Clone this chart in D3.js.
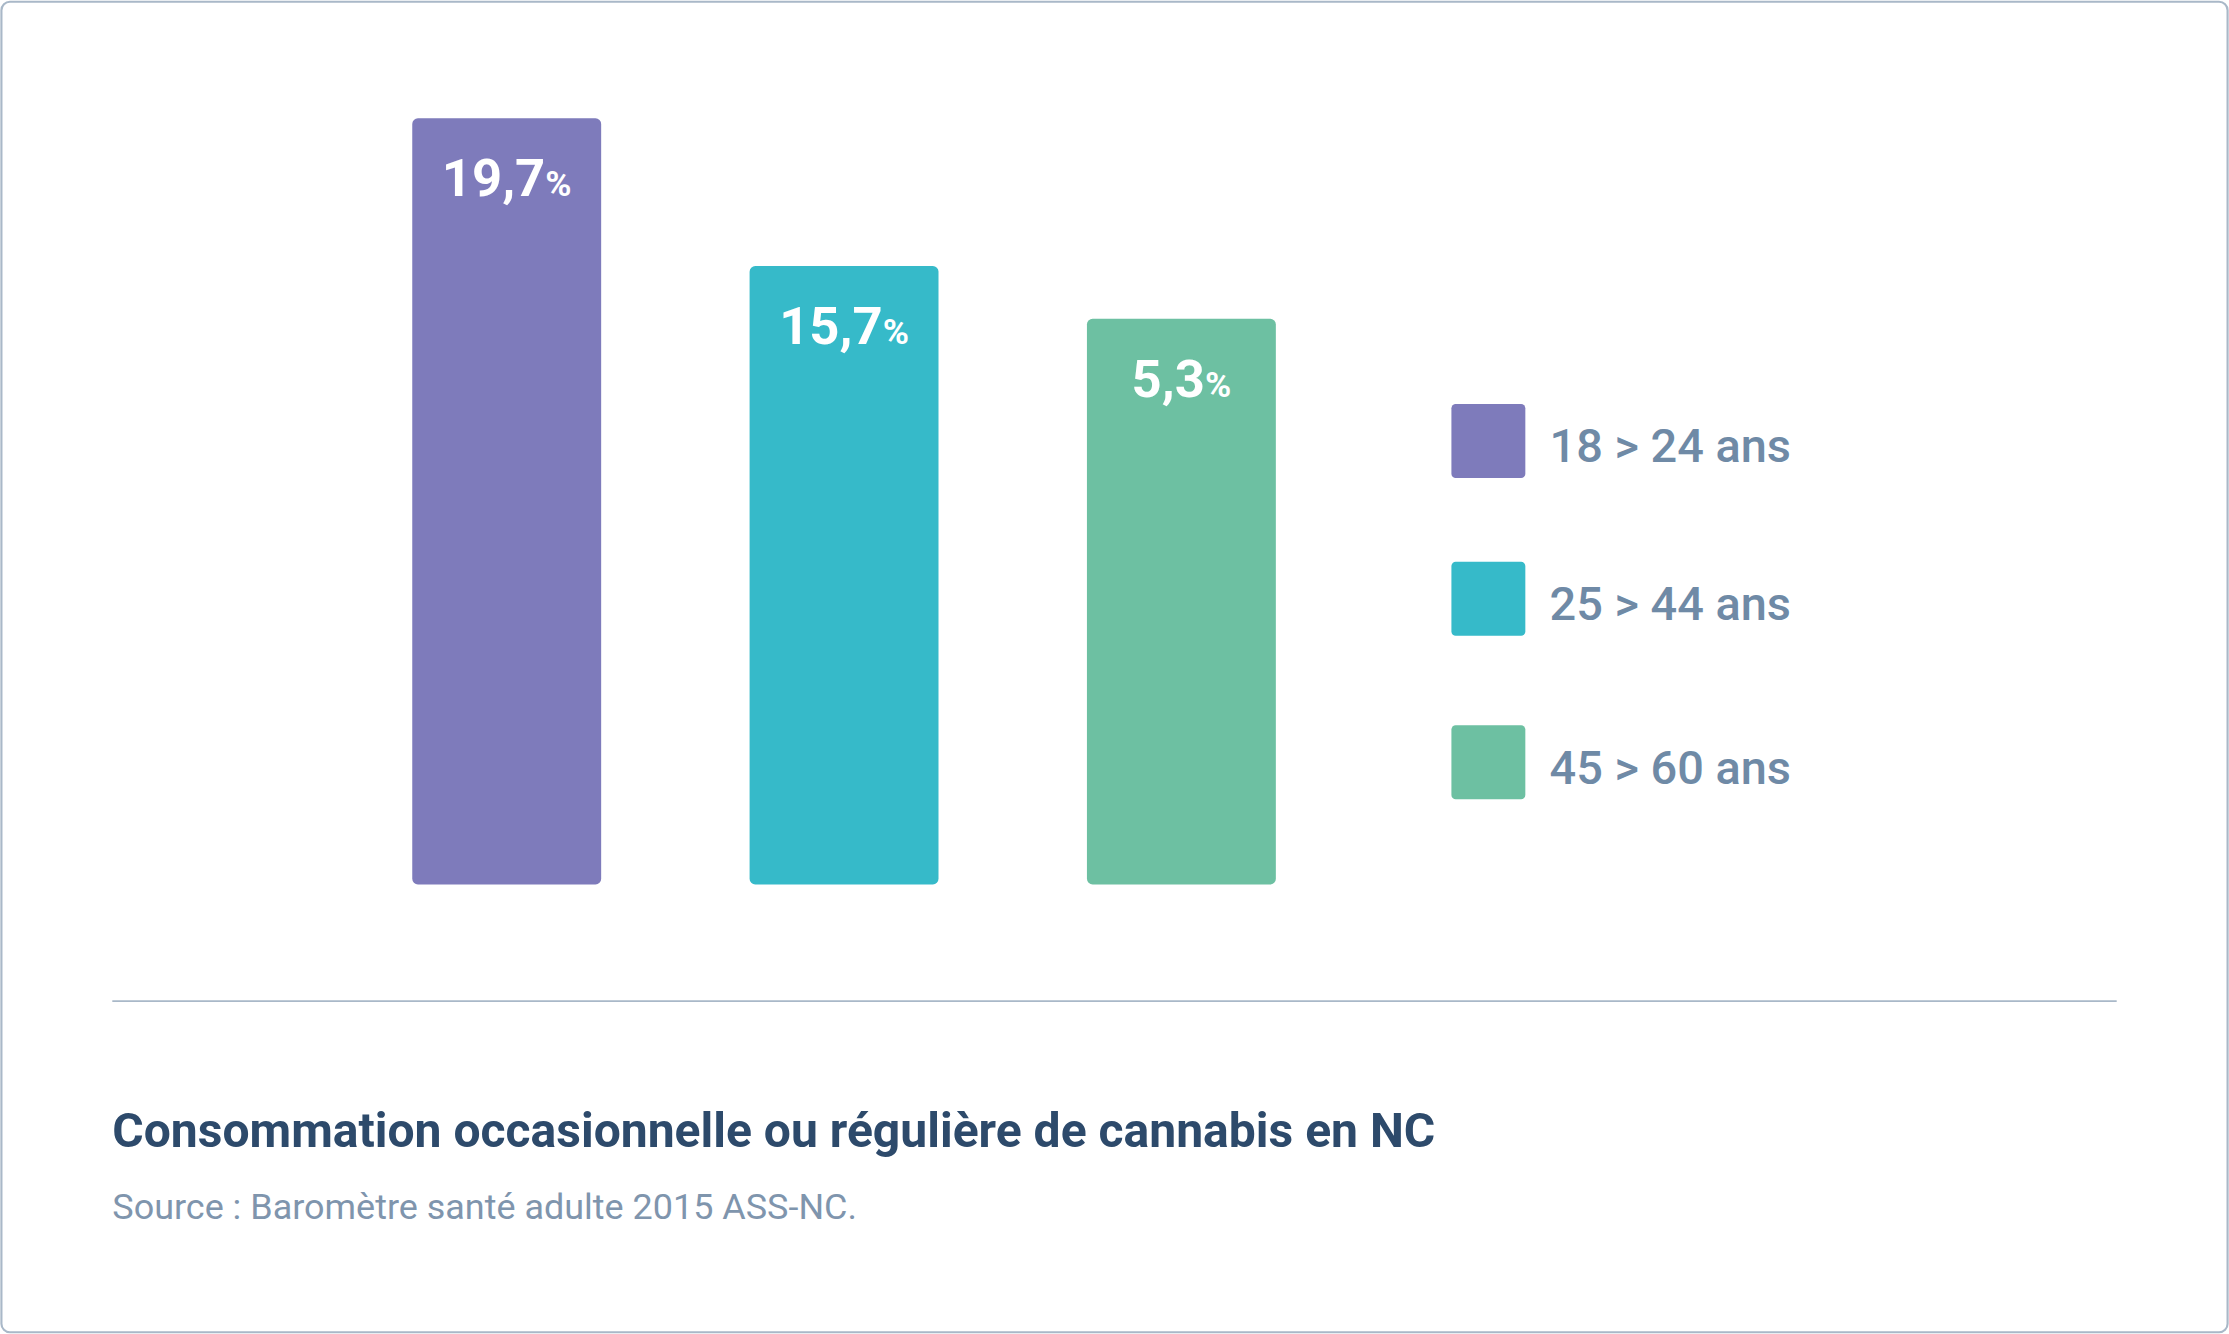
<!DOCTYPE html>
<html><head><meta charset="utf-8">
<script src="https://cdn.jsdelivr.net/npm/d3@7"></script>
<style>html,body{margin:0;padding:0;background:#fff}svg{display:block}</style>
</head><body><svg id="c" width="2229" height="1334" viewBox="0 0 1568 938"></svg>
<script>
const categories = ["18 > 24 ans", "25 > 44 ans", "45 > 60 ans"];
const values = [19.7, 15.7, 5.3];
const valueLabels = ["19,7", "15,7", "5,3"];
const colors = ["#7e7bbb", "#36bac9", "#6dc0a2"];
const title = "Consommation occasionnelle ou régulière de cannabis en NC";
const source = "Source : Baromètre santé adulte 2015 ASS-NC.";

const svg = d3.select("#c");
const F = "Roboto, 'Open Sans', sans-serif";
svg.append("rect").attr("x",1).attr("y",1).attr("width",1566).attr("height",936)
  .attr("rx",6).attr("fill","#fff").attr("stroke","#a9b8c8").attr("stroke-width",1.5);

const base = 622;
// display scale of the original (non-linear)
const y = d3.scaleLinear().domain([0, 5.3, 15.7, 19.7]).range([base, 224, 187, 83]);
const x = d3.scaleBand().domain(categories).range([290, 897.5]).paddingInner(0.44).paddingOuter(0);

const g = svg.append("g");
categories.forEach((c,i)=>{
  const bx = x(c), bw = x.bandwidth(), top = y(values[i]);
  g.append("rect").attr("x",bx).attr("y",top).attr("width",bw).attr("height",base-top)
    .attr("rx",4).attr("fill",colors[i]);
  const t = g.append("text").attr("x",bx+bw/2).attr("y",top+55).attr("text-anchor","middle")
    .attr("fill","#fff").attr("font-family",F).attr("font-weight",700);
  t.append("tspan").attr("font-size",37).text(valueLabels[i]);
  t.append("tspan").attr("font-size",25).text("%");
});

const legendY = [284, 395, 510];
categories.forEach((c,i)=>{
  svg.append("rect").attr("x",1021).attr("y",legendY[i]).attr("width",52).attr("height",52)
    .attr("rx",3).attr("fill",colors[i]);
  svg.append("text").attr("x",1090).attr("y",legendY[i]+41).attr("font-family",F)
    .attr("font-size",33).attr("font-weight",500).attr("fill","#6f8aa6").text(c);
});

svg.append("line").attr("x1",79).attr("x2",1489).attr("y1",704).attr("y2",704)
  .attr("stroke","#a9b8c8").attr("stroke-width",1.2);
svg.append("text").attr("x",79).attr("y",807).attr("font-family",F).attr("font-weight",700)
  .attr("font-size",33.8).attr("fill","#2d4a6b").text(title);
svg.append("text").attr("x",79).attr("y",857).attr("font-family",F)
  .attr("font-size",25.3).attr("fill","#7f95ad").text(source);
</script></body></html>
